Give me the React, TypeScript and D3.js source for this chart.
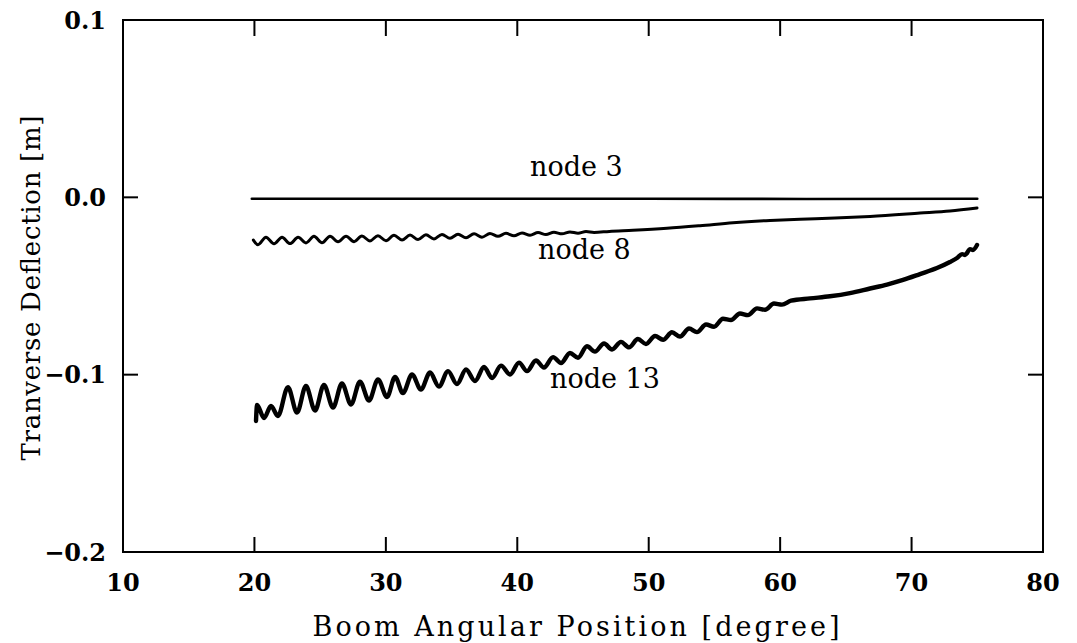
import React from "react";
import * as d3 from "d3";

// ---- axis ticks ----
const xTickValues = [10, 20, 30, 40, 50, 60, 70, 80];
const yTickValues = [0.1, 0.0, -0.1, -0.2];
const yTickLabels = ["0.1", "0.0", "\u22120.1", "\u22120.2"];
const xTitle = "Boom Angular Position [degree]";
const yTitle = "Tranverse Deflection [m]";

// ---- node 3 ----
const node3Deg = [19.8, 35.0, 50.0, 62.0, 75.0];
const node3Val = [-0.0008, -0.0008, -0.0008, -0.0009, -0.0008];

// ---- node 8 ----
const node8Deg = [
  19.92, 20.27, 20.88, 21.49, 22.1, 22.71, 23.32, 23.92, 24.53, 25.14, 25.75, 26.36,
  26.97, 27.58, 28.18, 28.79, 29.4, 30.01, 30.62, 31.23, 31.84, 32.45, 33.05, 33.66,
  34.27, 34.88, 35.49, 36.1, 36.71, 37.31, 37.92, 38.53, 39.14, 39.75, 40.36, 40.97,
  41.58, 42.18, 42.79, 43.4, 44.01, 44.62, 45.23, 45.84, 47.0, 48.8, 51.39, 53.9, 56.41, 59.23,
  61.51, 64.17, 66.84, 70.64, 72.92, 74.98,
];
const node8Val = [
  -0.0241, -0.0267, -0.0225, -0.0262, -0.0225, -0.0261, -0.0225, -0.0257, -0.0220, -0.0256, -0.0219, -0.0251,
  -0.0219, -0.0250, -0.0218, -0.0246, -0.0216, -0.0245, -0.0214, -0.0241, -0.0213, -0.0238, -0.0211, -0.0235,
  -0.0209, -0.0231, -0.0208, -0.0228, -0.0206, -0.0225, -0.0204, -0.0220, -0.0203, -0.0217, -0.0201, -0.0214,
  -0.0199, -0.0210, -0.0197, -0.0206, -0.0195, -0.0202, -0.0193, -0.0198, -0.0192, -0.0186, -0.0175, -0.0160, -0.0143, -0.0130,
  -0.0123, -0.0117, -0.0108, -0.0089, -0.0077, -0.006,
];

// ---- node 13 ----
const node13Deg = [
  20.12, 20.2, 20.73, 21.26, 21.79, 22.55, 23.24, 23.92, 24.61, 25.29, 25.98, 26.66,
  27.35, 28.03, 28.72, 29.4, 30.09, 30.7, 31.3, 31.99, 32.67, 33.36, 34.04, 34.73,
  35.41, 36.1, 36.78, 37.47, 38.08, 38.76, 39.45, 40.13, 40.74, 41.42, 42.03, 42.72,
  43.33, 44.01, 44.62, 45.3, 45.91, 46.6, 47.21, 47.89, 48.5, 49.18, 49.79, 50.48,
  51.09, 51.77, 52.38, 53.07, 53.67, 54.36, 54.97, 55.65, 56.26, 56.94, 57.55, 58.24,
  58.85, 59.53, 60.14, 60.83, 62.27, 63.79, 65.31, 66.84, 68.13, 69.35, 70.64, 71.93,
  72.92, 73.46, 73.84, 74.07, 74.45, 74.67, 74.98,
];
const node13Val = [
  -0.1261, -0.1171, -0.1245, -0.1177, -0.1233, -0.107, -0.1214, -0.1064, -0.1202, -0.1058, -0.1185, -0.105,
  -0.1168, -0.1039, -0.1146, -0.1027, -0.1126, -0.1013, -0.1104, -0.0999, -0.1084, -0.0988, -0.1067, -0.098,
  -0.1053, -0.0971, -0.1036, -0.0957, -0.1019, -0.0949, -0.0999, -0.0932, -0.098, -0.092, -0.096, -0.0901,
  -0.0934, -0.0878, -0.0905, -0.084, -0.087, -0.0824, -0.0858, -0.0815, -0.0846, -0.0799, -0.0827, -0.0782,
  -0.0803, -0.0761, -0.0785, -0.074, -0.076, -0.0717, -0.073, -0.0685, -0.0692, -0.0655, -0.0664, -0.0626,
  -0.0634, -0.0599, -0.0605, -0.0583, -0.0570, -0.0558, -0.054, -0.0514, -0.0492, -0.0466, -0.0433, -0.0399,
  -0.0365, -0.0342, -0.032, -0.0325, -0.0292, -0.0297, -0.0269,
];

// ---- curve labels (anchor in data coordinates) ----
const labelTexts = ["node 3", "node 8", "node 13"];
const labelDeg = [40.97, 41.58, 42.49];
const labelVal = [0.012, -0.0348, -0.1075];

const FONT = "'DejaVu Serif', 'Liberation Serif', serif";

export default function App() {
  const W = 1077;
  const H = 643;
  const left = 123, right = 1043, top = 20, bottom = 552;
  const x = d3.scaleLinear().domain([10, 80]).range([left, right]);
  const y = d3.scaleLinear().domain([-0.2, 0.1]).range([bottom, top]);

  const line = d3
    .line<[number, number]>()
    .x((d) => x(d[0]))
    .y((d) => y(d[1]))
    .curve(d3.curveMonotoneX);

  const zip = (a: number[], b: number[]) => a.map((v, i) => [v, b[i]] as [number, number]);
  const series = [
    { d: line(zip(node3Deg, node3Val)), w: 2.6 },
    { d: line(zip(node8Deg, node8Val)), w: 3.0 },
    { d: line(zip(node13Deg, node13Val)), w: 4.4 },
  ];

  const tickLen = 15;

  return (
    <svg
      width={W}
      height={H}
      viewBox={`0 0 ${W} ${H}`}
      style={{ position: "absolute", left: 0, top: 0, background: "#fff" }}
    >
      <rect x={0} y={0} width={W} height={H} fill="#fff" />
      {/* frame */}
      <rect x={left} y={top} width={right - left} height={bottom - top} fill="none" stroke="#000" strokeWidth={2} />

      {/* x ticks (bottom and top, inward) */}
      {xTickValues.slice(1, -1).map((v) => (
        <g key={"xt" + v}>
          <line x1={x(v)} x2={x(v)} y1={bottom} y2={bottom - tickLen} stroke="#000" strokeWidth={2} />
          <line x1={x(v)} x2={x(v)} y1={top} y2={top + tickLen + 1} stroke="#000" strokeWidth={2} />
        </g>
      ))}
      {/* y ticks (left and right, inward) */}
      {yTickValues.slice(1, -1).map((v) => (
        <g key={"yt" + v}>
          <line x1={left} x2={left + tickLen} y1={y(v)} y2={y(v)} stroke="#000" strokeWidth={2} />
          <line x1={right} x2={right - tickLen} y1={y(v)} y2={y(v)} stroke="#000" strokeWidth={2} />
        </g>
      ))}

      {/* x tick labels */}
      {xTickValues.map((v) => (
        <text
          key={"xl" + v}
          x={x(v)}
          y={591}
          textAnchor="middle"
          fontFamily={FONT}
          fontWeight="bold"
          fontSize={24}
          fill="#000"
        >
          {String(v)}
        </text>
      ))}
      {/* y tick labels */}
      {yTickValues.map((v, i) => (
        <text
          key={"yl" + v}
          x={106}
          y={y(v)}
          dy="0.36em"
          textAnchor="end"
          fontFamily={FONT}
          fontWeight="bold"
          fontSize={24}
          fill="#000"
        >
          {yTickLabels[i]}
        </text>
      ))}

      {/* axis titles */}
      <text
        x={576}
        y={636}
        textAnchor="middle"
        fontFamily={FONT}
        fontSize={27}
        textLength={527}
        lengthAdjust="spacing"
        fill="#000"
      >
        {xTitle}
      </text>
      <text
        transform={`translate(40, ${288}) rotate(-90)`}
        textAnchor="middle"
        fontFamily={FONT}
        fontSize={26}
        textLength={345}
        lengthAdjust="spacing"
        fill="#000"
      >
        {yTitle}
      </text>

      {/* series */}
      {series.map((s, i) => (
        <path
          key={"s" + i}
          d={s.d || ""}
          fill="none"
          stroke="#000"
          strokeWidth={s.w}
          strokeLinejoin="round"
          strokeLinecap="round"
        />
      ))}

      {/* curve labels */}
      {labelTexts.map((t, i) => (
        <text
          key={"lab" + i}
          x={x(labelDeg[i])}
          y={y(labelVal[i])}
          fontFamily={FONT}
          fontSize={27}
          fill="#000"
        >
          {t}
        </text>
      ))}
    </svg>
  );
}
